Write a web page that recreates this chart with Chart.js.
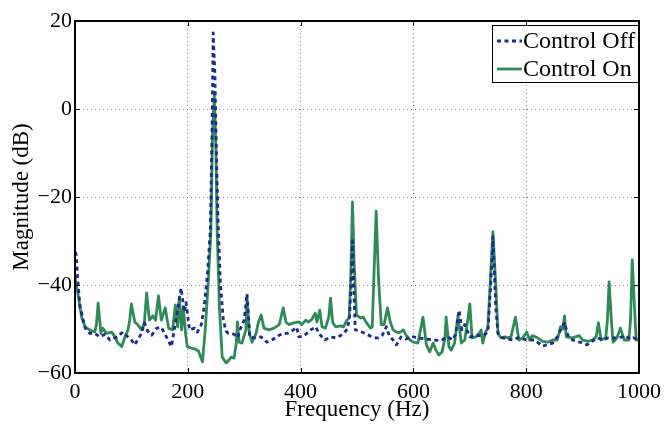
<!DOCTYPE html>
<html><head><meta charset="utf-8">
<script src="https://cdn.jsdelivr.net/npm/chart.js@4/dist/chart.umd.min.js"></script>
<style>html,body{margin:0;padding:0;background:#fff}#wrap{width:667px;height:424px}</style>
</head><body><div id="wrap"><canvas id="c" width="667" height="424"></canvas></div>
<script>
const seriesLabels = ['Control Off', 'Control On'];
const xTicks = [0, 200, 400, 600, 800, 1000];
const yTicks = [-60, -40, -20, 0, 20];

const freqOff = [0,2,5,9,12,18,26,35,44,53,62,74,85,94,100,106,113,118,123,129,136,145,153,162,171,176,182,188,194,197,203,212,217,224,229,235,240,243,245,248,251,254,258,263,268,272,277,282,288,293,300,305,310,319,330,340,349,358,367,376,384,393,397,406,418,427,432,443,453,462,471,476,483,487,490,492,494,497,506,513,522,531,538,545,552,557,564,570,578,587,594,600,608,623,635,649,661,670,675,681,686,691,700,711,723,732,737,741,746,750,758,776,785,802,815,829,847,855,861,868,874,882,900,908,926,935,946,961,970,975,985,990,1000];
const magOff = [-32.5,-33,-39,-45,-46.5,-49.8,-51,-51,-51.8,-51.2,-52.5,-51.8,-50.7,-51.8,-52.5,-53.6,-52,-51,-48.6,-50.5,-51.4,-49.8,-49.6,-51.8,-54,-50.2,-45.7,-40.7,-46.1,-44,-50.2,-49.8,-50.7,-49,-45,-37.3,-27.5,-5,17.3,8,-12,-27,-40,-48,-50.5,-51,-51,-51.2,-52,-50,-48,-42,-51.8,-52,-51.8,-53,-52.5,-51.8,-51,-51,-50.5,-49.6,-51.8,-51.6,-50.2,-49.5,-51,-52.5,-51.8,-52,-51.5,-51,-50,-47,-38,-30,-40,-50.2,-50.5,-51,-51.5,-52,-52,-51.4,-49.5,-51.5,-52.5,-53.6,-51.8,-52.3,-51.8,-51.8,-52,-52.3,-52.5,-52.6,-51.8,-52.5,-51,-45.7,-50.2,-49,-51.8,-51.4,-51.6,-50.7,-40,-29,-45,-51,-52,-52.5,-52,-52.5,-52.5,-53.9,-53.2,-51.8,-50.2,-48.5,-51.5,-52.5,-53.2,-53.6,-52,-52.5,-52,-52,-51.8,-51.5,-52.3,-52,-52.5];

const freqOn = [0,5,12,18,26,35,38,41,46,49,56,65,71,76,83,88,94,97,100,106,111,118,123,127,132,138,143,148,153,160,166,173,178,182,185,189,192,196,199,205,212,219,226,231,236,241,244,247,250,252,256,261,268,270,277,282,286,288,291,296,303,305,309,314,321,325,330,335,344,353,362,365,369,374,379,388,397,402,409,414,420,426,429,434,438,444,450,453,457,462,471,476,482,486,489,492,495,499,506,511,517,524,527,530,534,538,543,548,554,559,564,570,576,582,587,594,600,608,617,623,629,635,640,645,651,656,658,663,667,673,679,685,691,697,700,704,711,718,720,723,728,732,736,741,746,750,755,762,767,773,778,781,787,794,801,806,811,820,829,838,847,855,861,865,868,871,882,894,900,910,917,924,928,933,941,944,947,951,954,961,967,974,982,985,988,992,995,1000];
const magOn = [-38.2,-41.8,-47.5,-49.5,-50.2,-50.7,-49,-44.1,-51,-49.8,-51,-50.7,-51.8,-53.2,-54,-52,-50.2,-48,-44.3,-48.4,-49,-50.2,-48.6,-41.8,-48,-47,-48,-42.5,-48,-45.2,-49.8,-50.2,-44.5,-49.5,-42.7,-50.2,-45,-51,-54,-54.3,-54.5,-55,-57.5,-50,-40,-27.5,-5,3.2,-10,-27.5,-45,-56.4,-57.7,-57.5,-56.4,-56.6,-53.2,-48.4,-53,-53.2,-50.2,-43,-51,-53,-51,-48.6,-46.8,-49.8,-50.2,-49.8,-49,-47.5,-45.2,-48.4,-49,-48.6,-48.4,-49,-48,-48.4,-47.8,-46.4,-48.4,-45.7,-49.5,-49.8,-47.3,-43,-48.6,-49.5,-49.3,-49.5,-48,-47.5,-38,-21.1,-35,-46.8,-47.5,-47.3,-48.6,-49.8,-49.5,-38,-23.2,-38,-49,-49,-45.2,-48.4,-50.2,-50.7,-50.8,-50.2,-51.4,-52.5,-53,-53.2,-47.3,-53.6,-55.2,-53.2,-54.8,-55.9,-55.2,-52,-47.3,-54,-54.8,-53.2,-47,-53.2,-52.5,-47.5,-44.3,-52,-51.8,-50.7,-50.2,-53.2,-50.7,-49.8,-40,-27.9,-40,-51,-52,-51.8,-52,-51.8,-49,-47.3,-52.5,-52,-50.7,-52.5,-51.5,-52,-52.8,-53,-52.5,-52.5,-49.5,-50,-47,-51.8,-52,-51.5,-52.5,-52.8,-52.5,-51.8,-48.6,-52.5,-52,-48,-39.3,-48,-53,-52,-49.8,-52.5,-52.5,-48,-34.3,-45,-52.5,-52.5];

const toXY = (xs, ys) => xs.map((x, i) => ({x: x, y: ys[i]}));
const FONT = "'Liberation Serif', 'Times New Roman', serif";

const framePlugin = {
  id: 'frame',
  afterDatasetsDraw(chart) {
    const {ctx, chartArea: a, scales} = chart;
    ctx.save();
    ctx.strokeStyle = '#000';
    ctx.lineWidth = 1;
    const t = 5;
    ctx.beginPath();
    xTicks.forEach(v => {
      const px = Math.round(scales.x.getPixelForValue(v)) + 0.5;
      ctx.moveTo(px, a.bottom); ctx.lineTo(px, a.bottom - t);
      ctx.moveTo(px, a.top); ctx.lineTo(px, a.top + t);
    });
    yTicks.forEach(v => {
      const py = Math.round(scales.y.getPixelForValue(v)) + 0.5;
      ctx.moveTo(a.left, py); ctx.lineTo(a.left + t, py);
      ctx.moveTo(a.right, py); ctx.lineTo(a.right - t, py);
    });
    ctx.stroke();
    ctx.lineWidth = 2;
    ctx.strokeRect(a.left, a.top, a.right - a.left, a.bottom - a.top);
    // legend
    const bx = 492, by = 25, bw = 146, bh = 57;
    ctx.fillStyle = '#fff';
    ctx.fillRect(bx, by, bw, bh);
    ctx.lineWidth = 1;
    ctx.strokeStyle = '#000';
    ctx.strokeRect(bx + 0.5, by + 0.5, bw, bh);
    chart.data.datasets.forEach((ds, i) => {
      const yy = by + 16 + i * 28;
      ctx.save();
      ctx.strokeStyle = ds.borderColor;
      ctx.lineWidth = ds.borderWidth;
      ctx.setLineDash(ds.borderDash || []);
      ctx.beginPath(); ctx.moveTo(bx + 5, yy); ctx.lineTo(bx + 30, yy); ctx.stroke();
      ctx.restore();
      ctx.fillStyle = '#000';
      ctx.font = '24px ' + FONT;
      ctx.textBaseline = 'middle';
      ctx.textAlign = 'left';
      ctx.fillText(ds.label, bx + 31, yy + 1);
    });
    ctx.restore();
  }
};

new Chart(document.getElementById('c'), {
  type: 'line',
  data: {
    datasets: [
      {label: seriesLabels[0], data: toXY(freqOff, magOff), borderColor: '#1b2b8e', borderWidth: 2.8, borderDash: [4, 3.5], pointRadius: 0, tension: 0, fill: false, borderJoinStyle: 'round'},
      {label: seriesLabels[1], data: toXY(freqOn, magOn), borderColor: '#2e8b57', borderWidth: 2.8, pointRadius: 0, tension: 0, fill: false, borderJoinStyle: 'round'}
    ]
  },
  options: {
    responsive: false,
    animation: false,
    layout: {padding: {top: 21, right: 25, left: 0, bottom: 0}},
    plugins: {legend: {display: false}, tooltip: {enabled: false}},
    scales: {
      x: {
        type: 'linear', min: 0, max: 1000,
        afterBuildTicks: s => { s.ticks = xTicks.map(v => ({value: v})); },
        afterFit: s => { s.height = 51; },
        grid: {color: '#8a8a8a', drawTicks: false, lineWidth: 1},
        border: {display: false, dash: [1, 3]},
        ticks: {color: '#000', padding: 6, font: {family: FONT, size: 22}, maxRotation: 0, callback: v => String(v)},
        title: {display: true, text: 'Frequency (Hz)', color: '#000', font: {family: FONT, size: 23}, padding: {top: 0, bottom: 0}}
      },
      y: {
        type: 'linear', min: -60, max: 20,
        afterBuildTicks: s => { s.ticks = yTicks.map(v => ({value: v})); },
        afterFit: s => { s.width = 75; },
        grid: {color: '#8a8a8a', drawTicks: false, lineWidth: 1},
        border: {display: false, dash: [1, 3]},
        ticks: {color: '#000', padding: 3, font: {family: FONT, size: 22}, callback: v => (v < 0 ? '\u2212' + Math.abs(v) : String(v))},
        title: {display: true, text: 'Magnitude (dB)', color: '#000', font: {family: FONT, size: 23}, padding: {top: 8, bottom: 0}}
      }
    }
  },
  plugins: [framePlugin]
});
</script></body></html>
